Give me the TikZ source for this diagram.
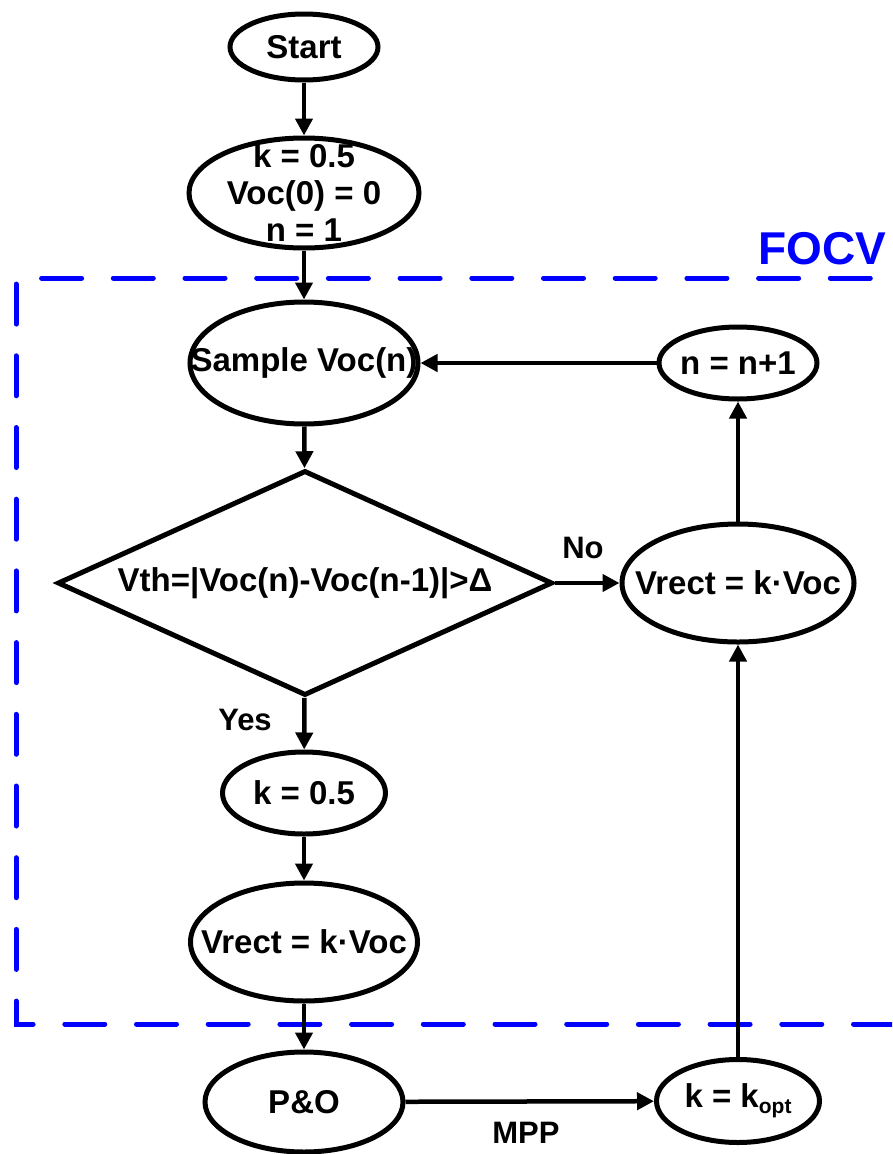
\documentclass[tikz,border=0pt]{standalone}
\usepackage{fontspec}
\setmainfont{Liberation Sans}
\usetikzlibrary{shapes.geometric,arrows.meta}
\definecolor{focvblue}{RGB}{0,0,255}
\begin{document}
\begin{tikzpicture}[x=1pt,y=-1pt,
  ell/.style={ellipse,draw,line width=5pt,inner sep=0pt},
  dia/.style={diamond,draw,line width=5pt,inner sep=0pt},
  txt/.style={font=\fontsize{33}{37}\selectfont\bfseries,align=center,inner sep=0pt},
  lbl/.style={font=\fontsize{31}{36}\selectfont\bfseries,inner sep=0pt},
  arr/.style={line width=4.5pt,-{Triangle[length=17pt,width=17pt]}},
  focvline/.style={draw=focvblue,line width=5pt,line cap=round,dash pattern=on 40pt off 31.7pt}
]
\useasboundingbox (0,0) rectangle (892,1154);

% FOCV dashed frame
\begin{scope}
\clip (0,0) rectangle (892,1154);
\draw[focvline] (942,278) -- (16,278) -- (16,1024) -- (942,1024);
\end{scope}
\node[font=\fontsize{46}{50}\selectfont\bfseries,text=focvblue,inner sep=0pt] (focvlabel) at (822,249) {FOCV};

% shapes
\node[ell,minimum width=148pt,minimum height=66pt] (start) at (304,47) {};
\node[ell,minimum width=230pt,minimum height=110pt] (init) at (304,193) {};
\node[ell,minimum width=228pt,minimum height=122pt] (sample) at (304,363) {};
\node[dia,minimum width=495pt,minimum height=225pt] (cond) at (305,583) {};
\node[ell,minimum width=163pt,minimum height=82pt] (kA) at (304,793) {};
\node[ell,minimum width=227pt,minimum height=118pt] (vrL) at (304,942) {};
\node[ell,minimum width=198pt,minimum height=100pt] (po) at (304,1102) {};
\node[ell,minimum width=163pt,minimum height=83pt] (kopt) at (738,1101) {};
\node[ell,minimum width=232pt,minimum height=118pt] (vrR) at (738,583) {};
\node[ell,minimum width=158pt,minimum height=72pt] (nn) at (738,363) {};

% texts
\node[txt] (startT) at (start) {Start};
\node[txt] (initT) at (init) {k = 0.5\\Voc(0) = 0\\n = 1};
\node[txt] (sampleT) at (sample) {Sample Voc(n)};
\node[txt] (condT) at (cond) {Vth=|Voc(n)-Voc(n-1)|>Δ};
\node[txt] (kAT) at (kA) {k = 0.5};
\node[txt] (vrLT) at (vrL) {Vrect = k·Voc};
\node[txt] (poT) at (po) {P\&O};
\node[txt] (koptT) at (kopt) {k = k\raisebox{-6pt}{\fontsize{21}{21}\selectfont opt}};
\node[txt] (vrRT) at (vrR) {Vrect = k·Voc};
\node[txt] (nnT) at (nn) {n = n+1};

% connectors
\draw[arr] (start) -- (init);
\draw[arr] (init) -- (sample);
\draw[arr] (sample) -- (cond);
\draw[arr] (cond) -- (kA);
\draw[arr] (kA) -- (vrL);
\draw[arr] (vrL) -- (po);
\draw[arr] (po) -- (kopt);
\draw[arr] (kopt) -- (vrR);
\draw[arr] (vrR) -- (nn);
\draw[arr] (nn) -- (sample);
\draw[arr] (cond) -- (vrR);

% labels
\node[lbl] (yesL) at (245,720) {Yes};
\node[lbl] (noL) at (583,548) {No};
\node[lbl] (mppL) at (526,1133) {MPP};
\end{tikzpicture}
\end{document}
